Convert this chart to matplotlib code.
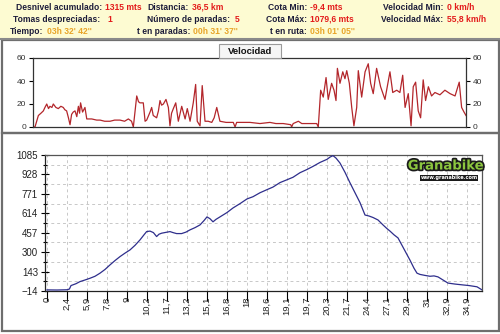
import matplotlib
matplotlib.use("Agg")
import matplotlib.pyplot as plt
import matplotlib.patches as mpatches
import matplotlib.transforms as mtrans
import matplotlib.patheffects as pe

# ---------------- data ----------------
# header summary
header_labels = ["Desnivel acumulado:", "Distancia:", "Cota Min:", "Velocidad Min:",
                 "Tomas despreciadas:", "Número de paradas:", "Cota Máx:", "Velocidad Máx:",
                 "Tiempo:", "t en paradas:", "t en ruta:"]
header_values = ["1315 mts", "36,5 km", "-9,4 mts", "0 km/h",
                 "1", "5", "1079,6 mts", "55,8 km/h",
                 "03h 32' 42''", "00h 31' 37''", "03h 01' 05''"]

# x axis: time index, labelled with distance (km)
dist_labels = ["0", "2,4", "5,9", "7,8", "9", "10,2", "11,7", "13,2", "15,1", "16,8", "18",
               "18,6", "19,1", "19,7", "20,3", "21,7", "24,4", "27,1", "29,2", "31", "32,9", "34,9"]

# elevation profile (m) vs time index
elev_t = [0.0, 0.5, 1.0, 1.12, 1.2, 1.45, 1.65, 1.9, 2.15, 2.4, 2.65, 2.9, 3.15, 3.4, 3.65,
          3.9, 4.15, 4.4, 4.65, 4.85, 4.98, 5.15, 5.32, 5.48, 5.6, 5.73, 5.95, 6.15, 6.3, 6.48,
          6.73, 6.95, 7.15, 7.4, 7.65, 7.85, 8.0, 8.15, 8.3, 8.45, 8.65, 9.0, 9.3, 9.65, 10.0,
          10.3, 10.65, 11.0, 11.3, 11.65, 12.0, 12.3, 12.65, 13.0, 13.3, 13.65, 14.0, 14.15,
          14.3, 14.45, 14.65, 14.9, 15.15, 15.4, 15.65, 15.9, 16.1, 16.3, 16.55, 16.8, 17.0,
          17.15, 17.35, 17.55, 17.8, 18.0, 18.15, 18.35, 18.5, 18.65, 18.9, 19.15, 19.35,
          19.55, 19.8, 20.05, 20.4, 20.8, 21.1, 21.5, 21.75]
elev_m = [-5, -6, -4, 2, 30, 45, 62, 75, 89, 105, 130, 160, 197, 232, 264,
          292, 318, 355, 399, 440, 466, 470, 458, 426, 445, 453, 460, 466, 458, 450,
          450, 462, 480, 498, 520, 555, 585, 570, 545, 565, 585, 620, 657, 692, 730,
          748, 780, 805, 826, 862, 885, 905, 942, 968, 993, 1025, 1050, 1068,
          1080, 1060, 1020, 945, 860, 780, 700, 600, 592, 580, 560, 520, 490,
          470, 440, 415, 340, 280, 235, 170, 130, 120, 112, 105, 108,
          100, 75, 50, 42, 35, 30, 20, -5]

# speed (km/h) vs time index
vel_t = [0.0, 0.1, 0.2, 0.27, 0.4, 0.52, 0.6, 0.69, 0.78, 0.85, 0.95, 1.02, 1.15, 1.27, 1.4,
         1.52, 1.6, 1.69, 1.78, 1.86, 1.94, 2.02, 2.11, 2.2, 2.28, 2.34, 2.39, 2.49, 2.55,
         2.61, 2.7, 2.95, 3.2, 3.37, 3.6, 3.87, 4.1, 4.37, 4.6, 4.79, 4.95, 5.04, 5.21, 5.3,
         5.37, 5.54, 5.63, 5.71, 5.88, 5.96, 6.04, 6.21, 6.3, 6.38, 6.46, 6.55, 6.68, 6.8,
         6.88, 6.96, 7.05, 7.17, 7.3, 7.47, 7.64, 7.75, 7.89, 8.05, 8.17, 8.25, 8.39, 8.5,
         8.64, 8.8, 8.98, 9.1, 9.23, 9.39, 9.7, 10.06, 10.15, 10.23, 10.5, 10.9, 11.4, 11.9,
         12.2, 12.57, 12.95, 12.99, 13.07, 13.33, 13.5, 13.75, 14.0, 14.25, 14.33, 14.45,
         14.58, 14.72, 14.83, 15.0, 15.12, 15.22, 15.29, 15.42, 15.56, 15.67, 15.76, 15.89,
         16.01, 16.12, 16.26, 16.34, 16.51, 16.68, 16.84, 16.96, 17.09, 17.26, 17.46, 17.68,
         17.93, 18.07, 18.27, 18.43, 18.57, 18.69, 18.85, 18.99, 19.1, 19.22, 19.35, 19.47,
         19.6, 19.72, 19.86, 20.02, 20.19, 20.44, 20.69, 20.95, 21.2, 21.41, 21.53, 21.65,
         21.75]
vel_k = [0, 0, 6, 10, 12, 14, 17, 20, 16, 18, 17, 20, 17, 16, 18,
         17, 15, 14, 8, 2, 11, 13, 14, 9, 18, 12, 21, 13, 15,
         17, 7, 7, 6, 6, 5, 5, 6, 6, 5, 7, 5, 0, 27, 22,
         21, 21, 5, 6, 13, 17, 10, 8, 14, 23, 19, 20, 24, 17,
         1, 12, 16, 21, 5, 18, 7, 16, 5, 21, 37, 5, 1, 36,
         5, 5, 4, 8, 17, 5, 4, 4, 0, 4, 4, 4, 3, 4,
         3, 3, 2, 0, 3, 5, 3, 3, 3, 3, 0, 32,
         26, 43, 24, 38, 32, 23, 51, 38, 48, 42, 49, 38,
         17, 1, 17, 49, 26, 48, 55, 38, 29, 51, 35, 24,
         48, 30, 32, 30, 45, 17, 29, 1, 35, 39, 14, 8,
         41, 23, 35, 27, 30, 28, 32, 29, 27, 39, 17, 13,
         10]

vel_ticks = [0, 20, 40, 60]
elev_ticks = [-14, 143, 300, 457, 614, 771, 928, 1085]

# ---------------- figure ----------------
W, H = 500, 334
fig = plt.figure(figsize=(W / 100, H / 100), dpi=100)
fig.patch.set_facecolor("white")

def px(x, y):
    return x / W, 1 - y / H

# header band
fig.patches.append(mpatches.Rectangle(px(0, 38), 1, 38 / H, transform=fig.transFigure,
                                      facecolor="#fdfbd2", edgecolor="none", zorder=0))
fig.add_artist(plt.Line2D([0, 1], [1 - 38.5 / H] * 2, color="#8a8a8a", lw=1.5,
                          transform=fig.transFigure))
# panel frames
for (y0, y1) in [(39.5, 132.5), (133, 331)]:
    fig.add_artist(mpatches.Rectangle(px(1.5, y1), 497 / W, (y1 - y0) / H,
                                      transform=fig.transFigure, facecolor="none",
                                      edgecolor="#6e6e6e", lw=1.6))

hdr_font = dict(family="Liberation Sans", weight="bold", fontsize=6.15)
label_col = "#1c1c3a"
red = "#e31b1b"
orange = "#e8a428"
# (label right edge x, value left x, row y) for each header item
hdr_pos = [(102, 105, 7), (189, 192, 7), (307, 310, 7), (443, 447, 7),
           (100, 107, 19), (230, 235, 19), (307, 310, 19), (443, 447, 19),
           (43, 47, 32), (190, 193, 32), (307, 310, 32)]
for i, (lab, val) in enumerate(zip(header_labels, header_values)):
    lx, vx, ry = hdr_pos[i]
    col = orange if i >= 8 else red
    fig.text(*px(lx, ry), lab, ha="right", va="center", color=label_col, **hdr_font)
    fig.text(*px(vx, ry), val, ha="left", va="center", color=col, **hdr_font)

# ---------------- speed panel ----------------
axv = fig.add_axes([33 / W, 1 - 127 / H, 433 / W, 69 / H])
axv.plot(vel_t, vel_k, color="#b3262b", lw=0.9)
axv.set_xlim(0, 21.75)
axv.set_ylim(0, 60)
axv.set_yticks(vel_ticks)
axv.set_xticks([])
axv.tick_params(axis="y", which="both", direction="out", length=3, width=0.8, pad=2,
                labelsize=6, labelcolor="#333333", left=True, right=True,
                labelleft=True, labelright=True)
for lab in axv.get_yticklabels():
    lab.set_family("Liberation Sans")
for sp in axv.spines.values():
    sp.set_color("#333333")
    sp.set_linewidth(0.9)

# title tab
fig.add_artist(mpatches.Rectangle(px(219, 58), 62 / W, 14 / H, transform=fig.transFigure,
                                  facecolor="#f6f6f6", edgecolor="#9a9a9a", lw=0.8))
fig.text(*px(250, 51), "Velocidad", ha="center", va="center", family="Liberation Sans",
         weight="bold", fontsize=6.8, color="#111111")

# ---------------- elevation panel ----------------
axe = fig.add_axes([45 / W, 1 - 291 / H, 437 / W, 136 / H])
axe.plot(elev_t, elev_m, color="#2e2e8c", lw=0.9, zorder=3)
axe.set_xlim(-0.1, 21.75)
axe.set_ylim(-14, 1085)
axe.set_yticks(elev_ticks)
minor = [(a + b) / 2 for a, b in zip(elev_ticks[:-1], elev_ticks[1:])]
axe.set_yticks(minor, minor=True)
xt = list(range(len(dist_labels)))
axe.set_xticks(xt)
axe.set_xticklabels(dist_labels, rotation=90, family="Liberation Sans", fontsize=6.8,
                    color="#222222", ha="center", va="top")
off = mtrans.ScaledTranslation(4.5 / 100, 0, fig.dpi_scale_trans)
for lab in axe.get_xticklabels():
    lab.set_transform(lab.get_transform() + off)
axe.tick_params(axis="x", direction="out", length=7.5, width=0.8, pad=-3.5)
axe.tick_params(axis="y", which="major", direction="inout", length=6, width=0.8, pad=2,
                labelsize=7, labelcolor="#222222")
axe.tick_params(axis="y", which="minor", direction="inout", length=3, width=0.8)
for lab in axe.get_yticklabels():
    lab.set_family("Liberation Sans")
axe.grid(axis="x", which="major", color="#c8c8c8", ls=(0, (3, 3)), lw=0.7)
axe.grid(axis="y", which="minor", color="#c8c8c8", ls=(0, (3, 3)), lw=0.7)
axe.spines["left"].set_color("#222222")
axe.spines["bottom"].set_color("#222222")
axe.spines["top"].set_color("#555555")
axe.spines["right"].set_color("#555555")
for sp in axe.spines.values():
    sp.set_linewidth(0.9)

# logo
fig.text(*px(446, 166), "Granabike", ha="center", va="center", fontsize=9.5,
         weight="bold", family="DejaVu Sans Condensed", color="#8cc63f",
         path_effects=[pe.withStroke(linewidth=2.5, foreground="#1a1a1a")])
fig.text(*px(449, 178), "www.granabike.com", ha="center", va="center", fontsize=3.6,
         weight="bold", family="DejaVu Sans", color="white",
         bbox=dict(boxstyle="square,pad=0.15", facecolor="#1a1a1a", edgecolor="none"))

fig.savefig("out.png", dpi=100)
